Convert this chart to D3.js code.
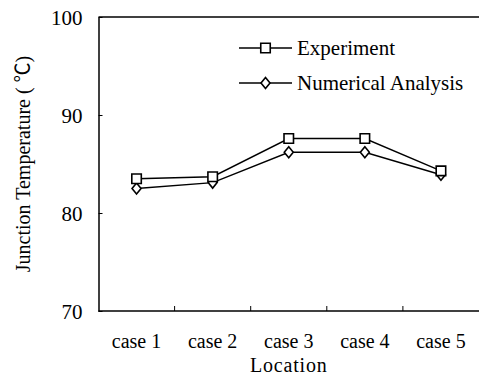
<!DOCTYPE html>
<html>
<head>
<meta charset="utf-8">
<script src="https://cdn.jsdelivr.net/npm/d3@7"></script>
<style>
  body { margin: 0; background: #fff; }
  text { font-family: "Liberation Serif", "Times New Roman", serif; fill: #000; }
</style>
</head>
<body>
<script>
const width = 479;
const height = 375;

// data
const cases = ["case 1", "case 2", "case 3", "case 4", "case 5"];
const experiment = [83.5, 83.7, 87.6, 87.6, 84.3];
const numerical = [82.5, 83.1, 86.2, 86.2, 83.9];
const yTicks = [70, 80, 90, 100];
const seriesNames = ["Experiment", "Numerical Analysis"];

const margin = { left: 98.5, top: 17, right: 0, bottom: 64 };

const svg = d3.select("body").append("svg")
    .attr("width", width)
    .attr("height", height);

const x = d3.scaleBand()
    .domain(cases)
    .range([margin.left, width - margin.right]);

const y = d3.scaleLinear()
    .domain([70, 100])
    .range([height - margin.bottom, margin.top]);

// y axis, ticks inside
const yAxis = svg.append("g")
    .attr("transform", "translate(" + margin.left + ",0)")
    .call(d3.axisLeft(y).tickValues(yTicks).tickSizeInner(-4).tickSizeOuter(0).tickPadding(16));
yAxis.select(".domain").attr("stroke-width", 1.5);
yAxis.selectAll(".tick line").attr("stroke-width", 1);
yAxis.selectAll("text")
    .attr("font-size", 21)
    .attr("font-family", "Liberation Serif")
    .attr("dy", "0.34em");

// x axis: ticks at band boundaries, pointing up
const xAxis = svg.append("g")
    .attr("transform", "translate(0," + y(70) + ")");
xAxis.append("line")
    .attr("x1", margin.left).attr("x2", width)
    .attr("stroke", "#000").attr("stroke-width", 1.5);
xAxis.selectAll(".tk")
    .data(cases.slice(1))
    .enter().append("line")
    .attr("x1", d => x(d)).attr("x2", d => x(d))
    .attr("y1", 0).attr("y2", -5)
    .attr("stroke", "#000");
xAxis.selectAll(".lbl")
    .data(cases)
    .enter().append("text")
    .attr("x", d => x(d) + x.bandwidth() / 2)
    .attr("y", 37)
    .attr("text-anchor", "middle")
    .attr("font-size", 20)
    .text(d => d);

// top frame line
svg.append("line")
    .attr("x1", margin.left).attr("x2", width)
    .attr("y1", y(100)).attr("y2", y(100))
    .attr("stroke", "#000").attr("stroke-width", 1.5);

// axis titles
svg.append("text")
    .attr("x", (margin.left + width) / 2)
    .attr("y", 372)
    .attr("text-anchor", "middle")
    .attr("font-size", 20)
    .attr("letter-spacing", 0.8)
    .text("Location");

const yTitle = svg.append("text")
    .attr("transform", "translate(30," + ((y(70) + y(100)) / 2) + ") rotate(-90)")
    .attr("text-anchor", "middle")
    .attr("font-size", 20);
yTitle.append("tspan").text("Junction Temperature ( ");
yTitle.append("tspan")
    .attr("font-family", "Noto Sans CJK SC")
    .attr("font-size", 20)
    .text("\u2103");
yTitle.append("tspan").text(")");

const line = d3.line()
    .x((d, i) => x(cases[i]) + x.bandwidth() / 2)
    .y(d => y(d));

const square = d3.symbol().type(d3.symbolSquare).size(90);
const diamond = "M0,-5.5L4.5,0L0,5.5L-4.5,0Z";

function drawSeries(values, marker) {
    const g = svg.append("g");
    g.append("path")
        .datum(values)
        .attr("d", line)
        .attr("fill", "none")
        .attr("stroke", "#000")
        .attr("stroke-width", 1.4);
    g.selectAll("path.m")
        .data(values)
        .enter().append("path")
        .attr("class", "m")
        .attr("d", marker)
        .attr("transform", (d, i) => "translate(" + (x(cases[i]) + x.bandwidth() / 2) + "," + y(d) + ")")
        .attr("fill", "#fff")
        .attr("stroke", "#000")
        .attr("stroke-width", 1.6);
}

drawSeries(numerical, diamond);
drawSeries(experiment, square());

// legend
const legend = svg.append("g");
const legendMarkers = [square(), diamond];
seriesNames.forEach((name, i) => {
    const ly = 48 + i * 35;
    legend.append("line")
        .attr("x1", 239).attr("x2", 292)
        .attr("y1", ly).attr("y2", ly)
        .attr("stroke", "#000").attr("stroke-width", 1.4);
    legend.append("path")
        .attr("d", legendMarkers[i])
        .attr("transform", "translate(265.5," + ly + ")")
        .attr("fill", "#fff")
        .attr("stroke", "#000")
        .attr("stroke-width", 1.6);
    legend.append("text")
        .attr("x", 297)
        .attr("y", ly)
        .attr("dy", "0.34em")
        .attr("font-size", 21)
        .text(name);
});
</script>
</body>
</html>
